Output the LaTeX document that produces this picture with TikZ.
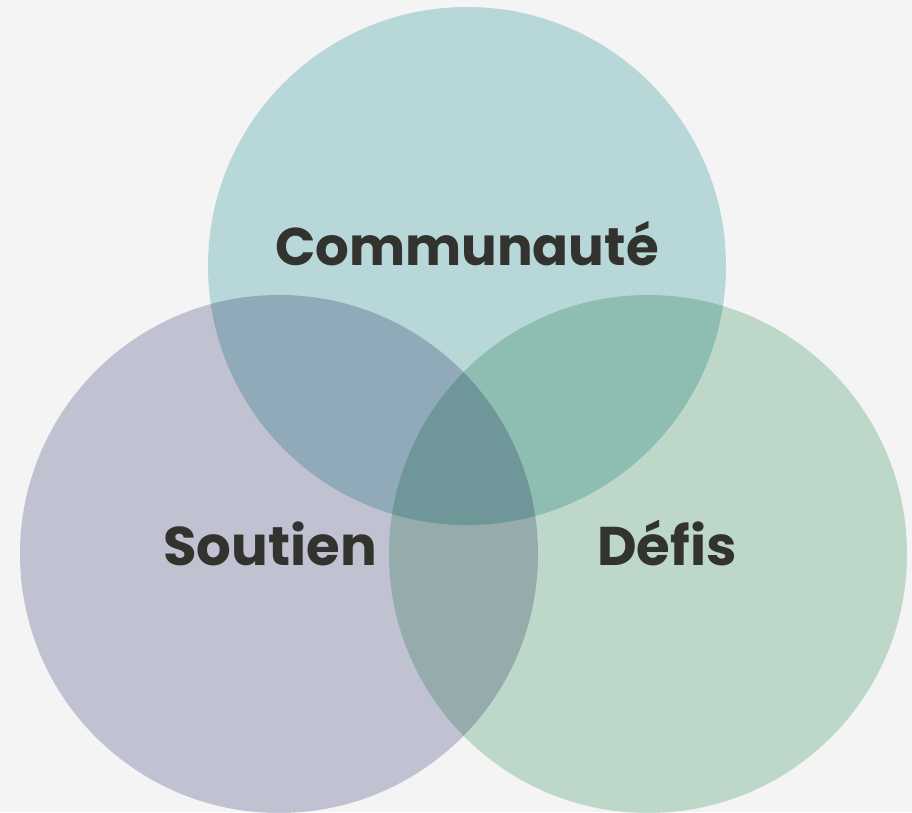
\documentclass[tikz,border=0pt]{standalone}
\usepackage{fontspec}
\setmainfont{Poppins}
\definecolor{bgc}{RGB}{244,244,244}
\definecolor{topc}{RGB}{192,225,226}
\definecolor{leftc}{RGB}{201,202,219}
\definecolor{rightc}{RGB}{198,226,210}
\definecolor{txt}{RGB}{50,50,46}
\tikzset{
  venn/.style={draw=none},
  lbl/.style={anchor=base, text=txt, font=\fontsize{53}{60}\selectfont\bfseries, inner sep=0pt},
  lblb/.style={lbl, font=\fontsize{54.5}{60}\selectfont\bfseries}
}
\begin{document}
\begin{tikzpicture}[x=1pt,y=-1pt]
\useasboundingbox (0,0) rectangle (912,812);
\begin{scope}[blend group=multiply]
  \fill[bgc] (0,0) rectangle (912,812);
  \fill[topc, venn] (467,266) circle[radius=259];
  \fill[leftc, venn] (279,554) circle[radius=259];
  \fill[rightc, venn] (648,554) circle[radius=259];
\end{scope}
\node[lbl] (c) at (467,265) {Communauté};
\node[lblb] (s) at (270,565) {Soutien};
\node[lblb] (d) at (667,565) {Défis};
\end{tikzpicture}
\end{document}
